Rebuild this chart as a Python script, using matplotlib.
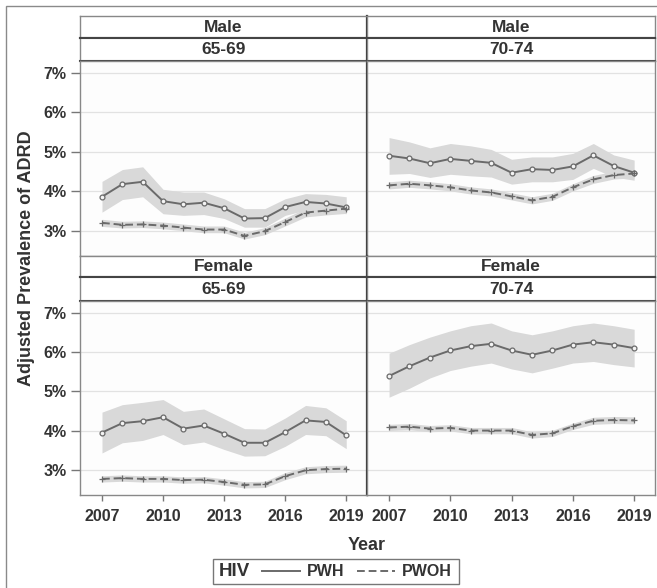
import matplotlib
matplotlib.use("Agg")
import matplotlib.pyplot as plt
from matplotlib.lines import Line2D
from matplotlib.patches import Rectangle

# ---------------- data ----------------
years = list(range(2007, 2020))
xticks = [2007, 2010, 2013, 2016, 2019]
yticks = [3, 4, 5, 6, 7]
sex_labels = ["Male", "Male", "Female", "Female"]
age_labels = ["65-69", "70-74", "65-69", "70-74"]

# Male 65-69
m6569_pwh = [3.86, 4.18, 4.24, 3.75, 3.67, 3.71, 3.57, 3.31, 3.32, 3.60, 3.73, 3.69, 3.59]
m6569_pwh_lo = [3.47, 3.79, 3.86, 3.43, 3.39, 3.41, 3.31, 3.09, 3.09, 3.39, 3.52, 3.50, 3.43]
m6569_pwh_hi = [4.25, 4.55, 4.62, 4.05, 3.98, 3.98, 3.81, 3.56, 3.56, 3.81, 3.94, 3.92, 3.86]
m6569_pwoh = [3.20, 3.15, 3.16, 3.13, 3.08, 3.03, 3.03, 2.87, 2.99, 3.22, 3.46, 3.51, 3.56]
m6569_pwoh_lo = [3.11, 3.07, 3.08, 3.05, 3.00, 2.95, 2.95, 2.79, 2.90, 3.12, 3.35, 3.40, 3.44]
m6569_pwoh_hi = [3.29, 3.24, 3.25, 3.22, 3.17, 3.12, 3.12, 2.96, 3.08, 3.32, 3.57, 3.62, 3.67]

# Male 70-74
m7074_pwh = [4.90, 4.83, 4.71, 4.82, 4.77, 4.72, 4.47, 4.56, 4.54, 4.63, 4.91, 4.64, 4.47]
m7074_pwh_lo = [4.43, 4.45, 4.35, 4.43, 4.39, 4.36, 4.18, 4.24, 4.24, 4.30, 4.58, 4.36, 4.28]
m7074_pwh_hi = [5.36, 5.25, 5.10, 5.21, 5.15, 5.06, 4.81, 4.87, 4.87, 4.96, 5.21, 4.92, 4.79]
m7074_pwoh = [4.15, 4.19, 4.15, 4.10, 4.02, 3.97, 3.87, 3.77, 3.86, 4.10, 4.30, 4.41, 4.45]
m7074_pwoh_lo = [4.06, 4.10, 4.06, 4.01, 3.93, 3.88, 3.78, 3.68, 3.77, 4.01, 4.20, 4.31, 4.34]
m7074_pwoh_hi = [4.24, 4.28, 4.24, 4.19, 4.11, 4.06, 3.96, 3.86, 3.95, 4.19, 4.40, 4.51, 4.56]

# Female 65-69
f6569_pwh = [3.95, 4.19, 4.24, 4.34, 4.05, 4.13, 3.92, 3.69, 3.69, 3.96, 4.26, 4.22, 3.88]
f6569_pwh_lo = [3.43, 3.69, 3.75, 3.90, 3.64, 3.71, 3.52, 3.35, 3.36, 3.60, 3.90, 3.87, 3.54]
f6569_pwh_hi = [4.47, 4.66, 4.72, 4.79, 4.49, 4.55, 4.30, 4.05, 4.04, 4.32, 4.64, 4.58, 4.25]
f6569_pwoh = [2.77, 2.79, 2.77, 2.77, 2.74, 2.75, 2.69, 2.62, 2.63, 2.84, 2.99, 3.02, 3.03]
f6569_pwoh_lo = [2.69, 2.71, 2.69, 2.69, 2.66, 2.67, 2.61, 2.54, 2.55, 2.75, 2.90, 2.93, 2.94]
f6569_pwoh_hi = [2.85, 2.87, 2.85, 2.85, 2.82, 2.83, 2.77, 2.70, 2.71, 2.93, 3.08, 3.11, 3.12]

# Female 70-74
f7074_pwh = [5.39, 5.64, 5.86, 6.04, 6.15, 6.21, 6.04, 5.93, 6.04, 6.19, 6.25, 6.19, 6.10]
f7074_pwh_lo = [4.85, 5.08, 5.34, 5.53, 5.64, 5.72, 5.57, 5.47, 5.59, 5.72, 5.76, 5.68, 5.62]
f7074_pwh_hi = [5.97, 6.19, 6.38, 6.54, 6.67, 6.74, 6.54, 6.44, 6.54, 6.67, 6.74, 6.67, 6.58]
f7074_pwoh = [4.08, 4.10, 4.05, 4.07, 4.00, 4.00, 4.00, 3.89, 3.93, 4.11, 4.25, 4.27, 4.26]
f7074_pwoh_lo = [4.00, 4.02, 3.97, 3.99, 3.92, 3.92, 3.92, 3.81, 3.85, 4.03, 4.16, 4.18, 4.17]
f7074_pwoh_hi = [4.16, 4.18, 4.13, 4.15, 4.08, 4.08, 4.08, 3.97, 4.01, 4.19, 4.34, 4.36, 4.35]

panels = [
    (m6569_pwh, m6569_pwh_lo, m6569_pwh_hi, m6569_pwoh, m6569_pwoh_lo, m6569_pwoh_hi),
    (m7074_pwh, m7074_pwh_lo, m7074_pwh_hi, m7074_pwoh, m7074_pwoh_lo, m7074_pwoh_hi),
    (f6569_pwh, f6569_pwh_lo, f6569_pwh_hi, f6569_pwoh, f6569_pwoh_lo, f6569_pwoh_hi),
    (f7074_pwh, f7074_pwh_lo, f7074_pwh_hi, f7074_pwoh, f7074_pwoh_lo, f7074_pwoh_hi),
]

# ---------------- style ----------------
plt.rcParams['font.family'] = ['Liberation Sans', 'DejaVu Sans']
plt.rcParams['font.weight'] = 'bold'
TXT = '#333333'
LINE = '#6a6a6a'
BAND = '#d9d9d9'
W, H = 657, 588

fig = plt.figure(figsize=(W / 100, H / 100), dpi=100)
fig.patch.set_facecolor('white')


def rect(x0, y0, x1, y1):
    return [x0 / W, 1 - y1 / H, (x1 - x0) / W, (y1 - y0) / H]


# outer frame
fig.add_artist(Rectangle((6 / W, -0.05), 1.1, 1 - 6 / H + 0.05, transform=fig.transFigure,
                         fill=False, edgecolor='#8a8a8a', lw=1.0))

cols = [(80, 367), (367, 655)]
rows = [(16, 38, 61, 256), (256, 277, 301, 495)]

for i, data in enumerate(panels):
    r, c = divmod(i, 2)
    x0, x1 = cols[c]
    s0, s1, p0, p1 = rows[r]
    # strips
    for (ya, yb, label) in [(s0, s1, sex_labels[i]), (s1, p0, age_labels[i])]:
        sax = fig.add_axes(rect(x0, ya, x1, yb))
        sax.set_xticks([]); sax.set_yticks([])
        sax.set_facecolor('white')
        for sp in ['left', 'right']:
            sax.spines[sp].set_color('#888888'); sax.spines[sp].set_linewidth(1.0)
        sax.spines['top'].set_color('#888888' if ya == s0 else '#444444')
        sax.spines['top'].set_linewidth(1.0 if ya == s0 else 1.5)
        sax.spines['bottom'].set_color('#444444'); sax.spines['bottom'].set_linewidth(1.5)
        if c == 0:
            sax.spines['right'].set_color('#333333'); sax.spines['right'].set_linewidth(1.6)
        sax.text(0.5, 0.48, label, ha='center', va='center', fontsize=12.5,
                 fontweight='bold', color=TXT, transform=sax.transAxes)

    ax = fig.add_axes(rect(x0, p0, x1, p1))
    ax.set_facecolor('#fdfdfd')
    pwh, pwh_lo, pwh_hi, pwoh, pwoh_lo, pwoh_hi = data
    ax.fill_between(years, pwh_lo, pwh_hi, color=BAND, lw=0, zorder=1)
    ax.fill_between(years, pwoh_lo, pwoh_hi, color=BAND, lw=0, zorder=1)
    ax.plot(years, pwh, color=LINE, lw=1.4, marker='o', ms=3.5, mfc='#f4f4f4',
            mec=LINE, mew=0.9, zorder=3)
    ax.plot(years, pwoh, color=LINE, lw=1.4, dashes=(4, 2), marker='+', ms=5,
            mew=0.9, zorder=3)
    ax.set_xlim(2005.92, 2020.02)
    ax.set_ylim(2.36, 7.30)
    ax.set_yticks(yticks)
    for v in yticks:
        ax.axhline(v, color='#e2e2e2', lw=0.9, zorder=0)
    ax.set_xticks(xticks)
    ax.tick_params(axis='both', direction='out', color='#777777', width=1.0,
                   labelsize=11.5, labelcolor=TXT)
    ax.tick_params(axis='y', length=6.5, pad=3)
    ax.tick_params(axis='x', length=4, pad=6)
    if c == 0:
        ax.set_yticklabels([f"{v}%" for v in yticks], fontweight='bold')
    else:
        ax.tick_params(axis='y', left=False, labelleft=False)
    if r == 1:
        ax.set_xticklabels([str(v) for v in xticks], fontweight='bold')
    else:
        ax.tick_params(axis='x', bottom=False, labelbottom=False)
    for sp in ax.spines.values():
        sp.set_color('#888888'); sp.set_linewidth(1.0)
    if c == 0:
        ax.spines['right'].set_color('#333333'); ax.spines['right'].set_linewidth(1.6)

fig.text(27 / W, 1 - 258 / H, "Adjusted Prevalence of ADRD", rotation=90, ha='center',
         va='center', fontsize=13, fontweight='bold', color=TXT)
fig.text(367 / W, 1 - 545 / H, "Year", ha='center', va='center', fontsize=13,
         fontweight='bold', color=TXT)

# legend
fig.add_artist(Rectangle((213 / W, 1 - 584 / H), (459 - 213) / W, (584 - 559) / H,
                         transform=fig.transFigure, fill=False, edgecolor='#777777', lw=1.0))
fig.text(219 / W, 1 - 572 / H, "HIV", ha='left', va='center', fontsize=13.5,
         fontweight='bold', color=TXT)
handles = [Line2D([], [], color=LINE, lw=1.4),
           Line2D([], [], color=LINE, lw=1.4, dashes=(4, 2))]
fig.legend(handles, ["PWH", "PWOH"], loc='center left', bbox_to_anchor=(262 / W, 1 - 572 / H),
           ncol=2, frameon=False, handlelength=2.4, handletextpad=0.4, columnspacing=0.8,
           borderaxespad=0, borderpad=0, prop={'size': 11.5, 'weight': 'bold'},
           labelcolor=TXT)

fig.savefig("out.png", dpi=100)
